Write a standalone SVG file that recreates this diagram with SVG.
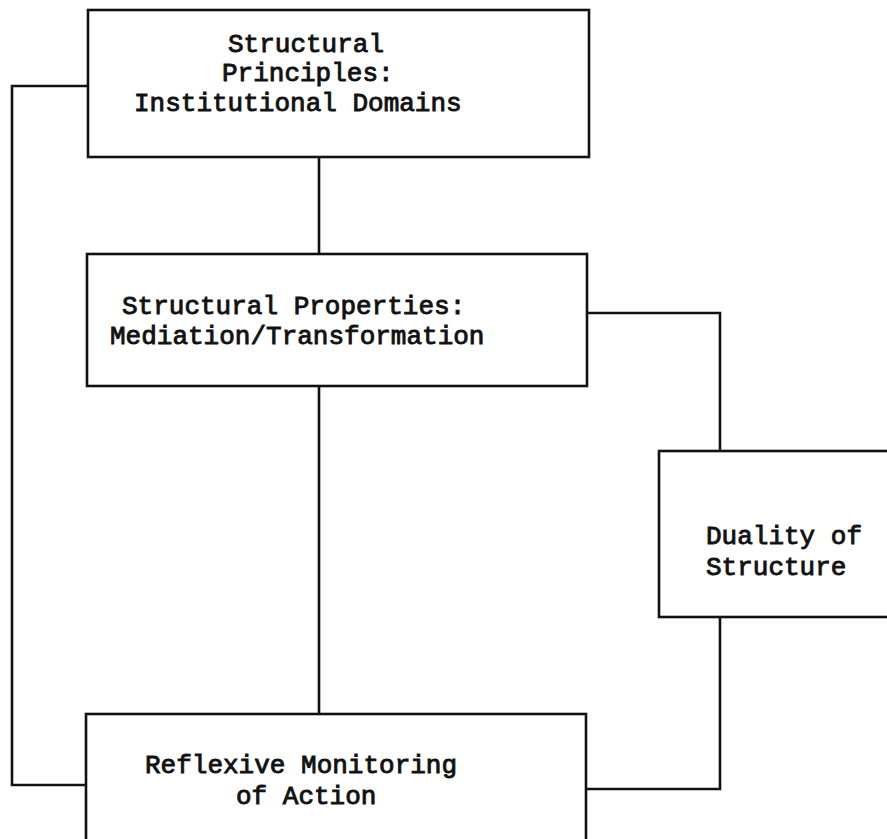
<svg xmlns="http://www.w3.org/2000/svg" width="887" height="839" viewBox="0 0 887 839">
  <style>
    .box { fill: #ffffff; stroke: #111111; stroke-width: 2.6; }
    .link { fill: none; stroke: #111111; stroke-width: 2.6; stroke-linejoin: miter; }
    .label { font-family: "Liberation Mono", "Courier New", monospace; font-size: 26px; font-weight: normal; fill: #111111; stroke: #111111; stroke-width: 0.9; }
  </style>
  <rect width="887" height="839" fill="#ffffff"/>

  <!-- connectors -->
  <g id="connectors">
    <!-- principles to monitoring, round the left side -->
    <polyline class="link" points="88,86 12,86 12,785 86,785"/>
    <!-- principles to properties -->
    <line class="link" x1="319" y1="157" x2="319" y2="254"/>
    <!-- properties to monitoring -->
    <line class="link" x1="319" y1="386" x2="319" y2="714"/>
    <!-- properties to duality -->
    <polyline class="link" points="587,313 720,313 720,451"/>
    <!-- duality to monitoring -->
    <polyline class="link" points="720,617 720,789 586,789"/>
  </g>

  <g id="structural-principles">
    <rect class="box" x="88" y="10" width="501" height="147"/>
    <text class="label" x="228" y="52">Structural</text>
    <text class="label" x="222" y="81">Principles:</text>
    <text class="label" x="134" y="111">Institutional Domains</text>
  </g>

  <g id="structural-properties">
    <rect class="box" x="87" y="254" width="500" height="132"/>
    <text class="label" x="122" y="314">Structural Properties:</text>
    <text class="label" x="110" y="344">Mediation/Transformation</text>
  </g>

  <g id="duality-of-structure">
    <rect class="box" x="659" y="451" width="240" height="166"/>
    <text class="label" x="706" y="544">Duality of</text>
    <text class="label" x="706" y="575">Structure</text>
  </g>

  <g id="reflexive-monitoring">
    <rect class="box" x="86" y="714" width="500" height="140"/>
    <text class="label" x="145" y="773">Reflexive Monitoring</text>
    <text class="label" x="236" y="804">of Action</text>
  </g>
</svg>
